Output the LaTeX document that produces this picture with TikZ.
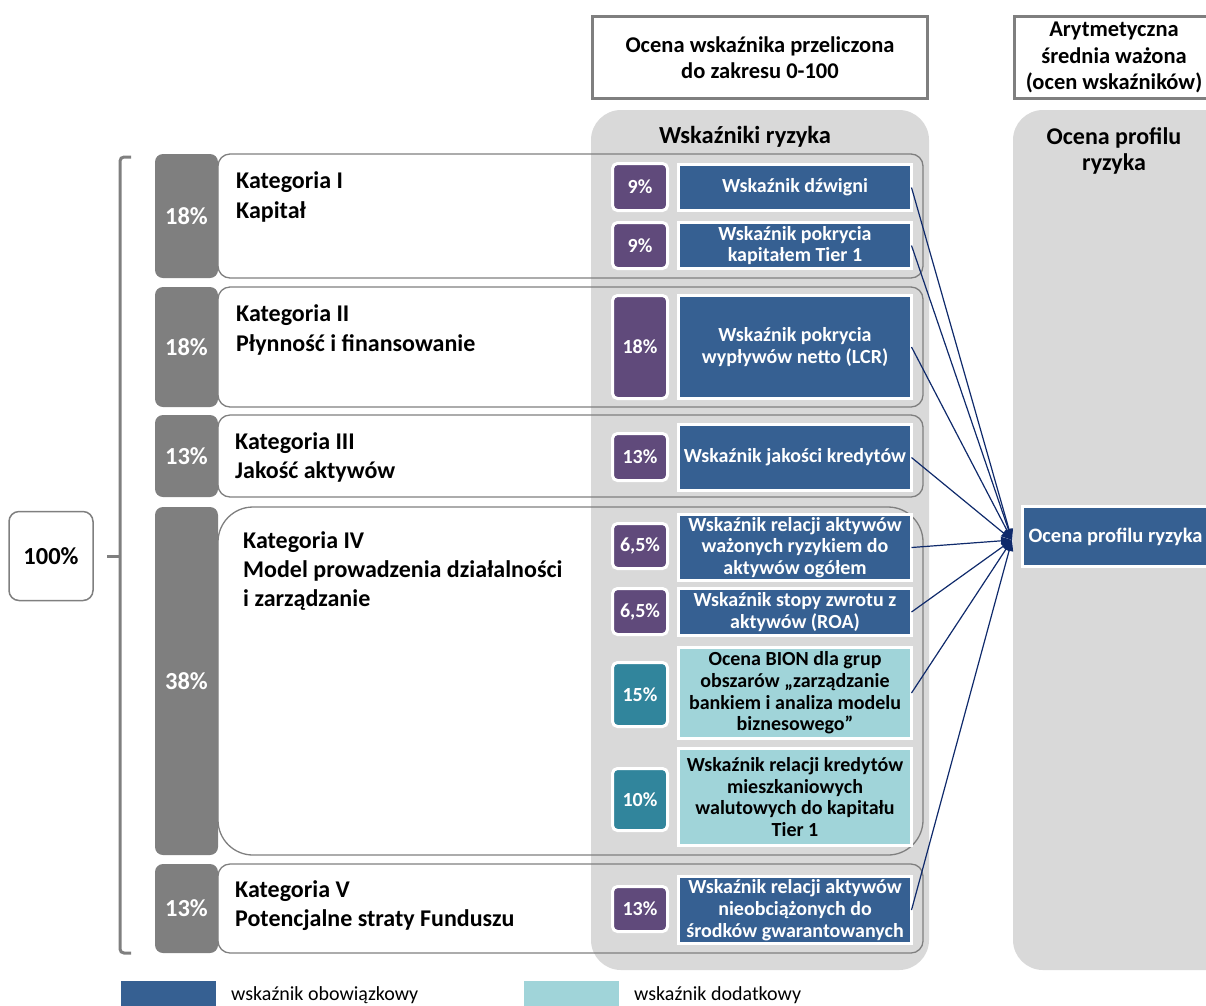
\documentclass[tikz,border=0pt]{standalone}
\usepackage{fontspec}
\setmainfont{Carlito}
\usetikzlibrary{arrows.meta}
\definecolor{blueI}{HTML}{366092}
\definecolor{purp}{HTML}{604A7B}
\definecolor{tealD}{HTML}{31859C}
\definecolor{tealL}{HTML}{A0D4D9}
\definecolor{gpanel}{HTML}{D9D9D9}
\definecolor{gdark}{HTML}{7F7F7F}
\definecolor{navy}{HTML}{0F2A6B}
\tikzset{
  ind/.style={draw=white, line width=3pt, fill=blueI, text=white,
    font=\bfseries\fontsize{20}{21.7}\selectfont, align=center,
    inner sep=0pt, outer sep=0pt, minimum width=233pt},
  indl/.style={ind, fill=tealL, text=black},
  pct/.style={draw=white, line width=3pt, fill=purp, text=white,
    font=\bfseries\fontsize{20}{22}\selectfont, minimum width=55pt,
    rounded corners=5pt, inner sep=0pt, outer sep=0pt},
  pctt/.style={pct, fill=tealD},
  tab/.style={fill=gdark, text=white, font=\bfseries\fontsize{24.5}{28}\selectfont,
    minimum width=63pt, rounded corners=8pt, inner sep=0pt, outer sep=0pt},
  catbox/.style={draw=gdark, line width=1.3pt, rounded corners=12pt},
  catlbl/.style={anchor=base west, inner sep=0pt, font=\bfseries\fontsize{24}{28}\selectfont},
  hdr/.style={draw=gdark, line width=3pt, fill=white, align=center, inner sep=0pt, outer sep=0pt,
    font=\bfseries\fontsize{22.5}{26.5}\selectfont},
  arr/.style={navy, line width=1.2pt, -{Triangle[length=11pt,width=8pt]}},
  legtxt/.style={anchor=west, inner sep=0pt, font=\fontsize{20}{24}\selectfont},
}
\begin{document}
\begin{tikzpicture}[x=1pt,y=-1pt]
\useasboundingbox (0,0) rectangle (1206,1005);
\clip (0,0) rectangle (1206,1005);

% header boxes
\node[hdr, minimum width=335pt, minimum height=82pt] (h1) at (760,57.5)
  {Ocena wskaźnika przeliczona\\do zakresu 0-100};
\node[hdr, minimum width=199pt, minimum height=82pt] (h2) at (1114,57.5)
  {Arytmetyczna\\średnia ważona\\(ocen wskaźników)};

% panels
\fill[gpanel, rounded corners=30pt] (591,110) rectangle (929,970);
\fill[gpanel, rounded corners=30pt] (1013,110) rectangle (1260,970);
\node[font=\bfseries\fontsize{24.5}{28}\selectfont, inner sep=0pt] (pt1) at (745,137) {Wskaźniki ryzyka};
\node[font=\bfseries\fontsize{24}{26}\selectfont, align=center, inner sep=0pt] (pt2) at (1114,151) {Ocena profilu\\ryzyka};

% category outlines
\draw[catbox] (218,154) rectangle (923,278);
\draw[catbox] (218,287) rectangle (923,407);
\draw[catbox] (218,415) rectangle (923,497);
\draw[catbox, rounded corners=35pt] (218,507) rectangle (923,855);
\draw[catbox] (218,864) rectangle (923,953);

% tabs
\node[tab, minimum height=124pt] (t1) at (186.5,216) {18\%};
\node[tab, minimum height=120pt] (t2) at (186.5,347) {18\%};
\node[tab, minimum height=82pt] (t3) at (186.5,456) {13\%};
\node[tab, minimum height=348pt] (t4) at (186.5,681) {38\%};
\node[tab, minimum height=89pt] (t5) at (186.5,908.5) {13\%};

% category labels
\node[catlbl] (c1a) at (236,188) {Kategoria I};
\node[catlbl] (c1b) at (236,218) {Kapitał};
\node[catlbl] (c2a) at (236,321) {Kategoria II};
\node[catlbl] (c2b) at (236,351) {Płynność i finansowanie};
\node[catlbl] (c3a) at (235,449) {Kategoria III};
\node[catlbl] (c3b) at (235,478) {Jakość aktywów};
\node[catlbl] (c4a) at (243,548) {Kategoria IV};
\node[catlbl] (c4b) at (243,577) {Model prowadzenia działalności};
\node[catlbl] (c4c) at (243,606) {i zarządzanie};
\node[catlbl] (c5a) at (235,897) {Kategoria V};
\node[catlbl] (c5b) at (235,926) {Potencjalne straty Funduszu};

% bracket and total
\draw[gdark, line width=3pt, rounded corners=4pt] (131,157) -- (120,157) -- (120,953) -- (131,953);
\coordinate (tickL) at (107,556);
\coordinate (tickR) at (120,556);
\draw[gdark, line width=3pt] (tickL) -- (tickR);
\node[draw=gdark, line width=1.5pt, rounded corners=10pt, minimum width=84pt, minimum height=89pt,
  inner sep=0pt, font=\bfseries\fontsize{24.5}{28}\selectfont] (tot) at (51,556) {100\%};

% percent boxes
\node[pct, minimum height=47pt] (p1) at (640,187) {9\%};
\node[pct, minimum height=46pt] (p2) at (640,245.5) {9\%};
\node[pct, minimum height=103pt] (p3) at (640,347) {18\%};
\node[pct, minimum height=47pt] (p4) at (640,457) {13\%};
\node[pct, minimum height=45pt] (p5) at (640,546) {6,5\%};
\node[pct, minimum height=46pt] (p6) at (640,611.5) {6,5\%};
\node[pctt, minimum height=64pt] (p7) at (640,694.5) {15\%};
\node[pctt, minimum height=62pt] (p8) at (640,799.5) {10\%};
\node[pct, minimum height=45pt] (p9) at (640,909) {13\%};

% indicator boxes
\node[ind, minimum height=46pt] (i1) at (795,187.5) {Wskaźnik dźwigni};
\node[ind, minimum height=46pt] (i2) at (795,245.5) {Wskaźnik pokrycia\\kapitałem Tier 1};
\node[ind, minimum height=103pt] (i3) at (795,347) {Wskaźnik pokrycia\\wypływów netto (LCR)};
\node[ind, minimum height=66pt] (i4) at (795,457.5) {Wskaźnik jakości kredytów};
\node[ind, minimum height=66pt] (i5) at (795,547.5) {Wskaźnik relacji aktywów\\ważonych ryzykiem do\\aktywów ogółem};
\node[ind, minimum height=47pt] (i6) at (795,612) {Wskaźnik stopy zwrotu z\\aktywów (ROA)};
\node[indl, minimum height=91pt] (i7) at (795,693) {Ocena BION dla grup\\obszarów „zarządzanie\\bankiem i analiza modelu\\biznesowego”};
\node[indl, minimum height=97pt] (i8) at (795,797) {Wskaźnik relacji kredytów\\mieszkaniowych\\walutowych do kapitału\\Tier 1};
\node[ind, minimum height=67pt] (i9) at (795,910) {Wskaźnik relacji aktywów\\nieobciążonych do\\środków gwarantowanych};

% target
\node[draw=white, line width=3pt, fill=blueI, text=white, inner sep=0pt,
  font=\bfseries\fontsize{20.5}{24}\selectfont, minimum width=186pt, minimum height=60pt] (tgt) at (1115.5,536.5)
  {Ocena profilu ryzyka};
\coordinate (hub) at (1012,540);

% arrows
\foreach \n in {i1,i2,i3,i4,i5,i6,i7,i9}{
  \draw[arr] (\n.east) -- (hub);
}

% legend
\node[fill=blueI, minimum width=95pt, minimum height=30pt, inner sep=0pt] (lg1) at (168.5,996) {};
\node[legtxt] (lt1) at (231,995) {wskaźnik obowiązkowy};
\node[fill=tealL, minimum width=95pt, minimum height=30pt, inner sep=0pt] (lg2) at (571.5,996) {};
\node[legtxt] (lt2) at (634,995) {wskaźnik dodatkowy};
\end{tikzpicture}
\end{document}
